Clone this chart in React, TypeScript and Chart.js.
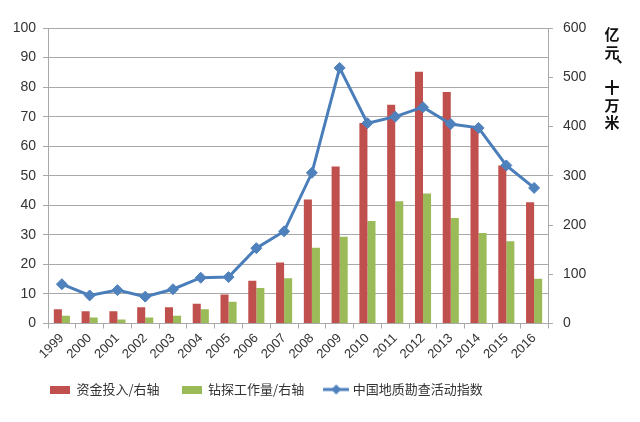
import React, { useEffect, useRef } from 'react';
import { Chart, registerables } from 'chart.js';

Chart.register(...registerables);

const years = ['1999', '2000', '2001', '2002', '2003', '2004', '2005', '2006', '2007', '2008', '2009', '2010', '2011', '2012', '2013', '2014', '2015', '2016'];
const fundInvestment = [29, 25, 25, 33, 33, 40, 59, 87, 124, 252, 319, 407, 444, 511, 470, 398, 321, 246];
const drillingWork = [16, 12, 8, 12, 16, 29, 44, 72, 92, 154, 176, 208, 248, 264, 214, 184, 167, 91];
const activityIndex = [13.3, 9.5, 11.3, 9.1, 11.6, 15.5, 15.7, 25.5, 31.2, 51.0, 86.5, 67.8, 70.0, 73.2, 67.5, 66.2, 53.5, 45.9];

const seriesNames = ['资金投入/右轴', '钻探工作量/右轴', '中国地质勘查活动指数'];
const rightAxisTitle = ['亿', '元', '、', '十', '万', '米'];
const leftAxis = { min: 0, max: 100, step: 10 };
const rightAxis = { min: 0, max: 600, step: 100 };

const RED = '#C0504D';
const GREEN = '#9BBB59';
const BLUE = '#4A7EBB';
const BLUE_FILL = '#4F81BD';
const GRID = '#A9A9A9';
const TEXT = '#333333';
const CJK = "'Noto Sans CJK SC', sans-serif";
const NUM = "'Liberation Sans', Arial, sans-serif";

function boxImage(color: string) {
  const c = document.createElement('canvas');
  c.width = 20;
  c.height = 8;
  const ctx = c.getContext('2d')!;
  ctx.fillStyle = color;
  ctx.fillRect(0, 0, 20, 8);
  return c;
}

function lineImage() {
  const c = document.createElement('canvas');
  c.width = 26;
  c.height = 12;
  const ctx = c.getContext('2d')!;
  ctx.strokeStyle = BLUE;
  ctx.lineWidth = 3;
  ctx.beginPath();
  ctx.moveTo(0, 6);
  ctx.lineTo(26, 6);
  ctx.stroke();
  ctx.fillStyle = BLUE_FILL;
  ctx.beginPath();
  ctx.moveTo(13, 1);
  ctx.lineTo(18, 6);
  ctx.lineTo(13, 11);
  ctx.lineTo(8, 6);
  ctx.closePath();
  ctx.fill();
  return c;
}

export default function App() {
  const ref = useRef<HTMLCanvasElement | null>(null);

  useEffect(() => {
    document.body.style.margin = '0';
    const canvas = ref.current;
    if (!canvas) return;
    const legendImgs = [boxImage(RED), boxImage(GREEN), lineImage()];

    const titlePlugin = {
      id: 'rightTitle',
      afterDraw(chart: any) {
        const ctx = chart.ctx;
        const area = chart.chartArea;
        ctx.save();
        ctx.font = `bold 15px ${CJK}`;
        ctx.fillStyle = '#111111';
        ctx.textAlign = 'center';
        ctx.textBaseline = 'middle';
        const x = area.right + 64;
        const dx = [0, 0, 12, 0, 0, 0];
        const ys = [6, 24.5, 28, 59, 77, 94.5];
        rightAxisTitle.forEach((ch, i) => ctx.fillText(ch, x + dx[i], area.top + ys[i]));
        ctx.restore();
      },
    };

    const legendPlace = {
      id: 'legendPlace',
      beforeDraw(chart: any) {
        const lg = chart.legend;
        if (lg) {
          lg.left = 28;
          lg.right = 640;
          lg.top = 361;
          lg.bottom = 420;
        }
      },
    };

    const chart = new Chart(canvas, {
      type: 'bar',
      data: {
        labels: years,
        datasets: [
          {
            type: 'bar',
            label: seriesNames[0],
            data: fundInvestment,
            backgroundColor: RED,
            yAxisID: 'y1',
            order: 1,
            categoryPercentage: 0.58,
            barPercentage: 1,
          },
          {
            type: 'bar',
            label: seriesNames[1],
            data: drillingWork,
            backgroundColor: GREEN,
            yAxisID: 'y1',
            order: 1,
            categoryPercentage: 0.58,
            barPercentage: 1,
          },
          {
            type: 'line',
            label: seriesNames[2],
            data: activityIndex,
            borderColor: BLUE,
            backgroundColor: BLUE_FILL,
            borderWidth: 3,
            pointStyle: 'rectRot',
            pointRadius: 5.5,
            pointBackgroundColor: BLUE_FILL,
            pointBorderColor: BLUE_FILL,
            pointBorderWidth: 1,
            tension: 0,
            yAxisID: 'y',
            order: 0,
          } as any,
        ],
      },
      options: {
        responsive: false,
        animation: false,
        layout: { padding: { top: 28, right: 0, left: 0, bottom: 13 } },
        plugins: {
          tooltip: { enabled: false },
          legend: {
            position: 'bottom',
            align: 'start',
            labels: {
              usePointStyle: true,
              pointStyleWidth: 20,
              padding: 22,
              color: TEXT,
              font: { family: CJK, size: 13 },
              sort: (a: any, b: any) => a.datasetIndex - b.datasetIndex,
              generateLabels: (c: any) => {
                const items = (Chart.defaults.plugins.legend.labels as any).generateLabels(c);
                items.forEach((it: any) => {
                  it.pointStyle = legendImgs[it.datasetIndex];
                });
                return items;
              },
            },
          },
        },
        scales: {
          x: {
            offset: true,
            grid: {
              display: true,
              drawOnChartArea: false,
              drawTicks: true,
              tickLength: 5,
              color: GRID,
              offset: true,
            },
            border: { display: true, color: GRID },
            ticks: {
              color: TEXT,
              font: { family: NUM, size: 13 },
              minRotation: 45,
              maxRotation: 45,
              autoSkip: false,
              padding: 2,
            },
          },
          y: {
            position: 'left',
            min: leftAxis.min,
            max: leftAxis.max,
            grid: { color: GRID, tickLength: 5, drawTicks: true },
            border: { display: true, color: GRID },
            ticks: {
              stepSize: leftAxis.step,
              color: TEXT,
              font: { family: NUM, size: 14 },
              padding: 7,
            },
            afterFit(scale: any) {
              scale.width = 48;
            },
          },
          y1: {
            position: 'right',
            min: rightAxis.min,
            max: rightAxis.max,
            grid: { drawOnChartArea: false, color: GRID, tickLength: 5, drawTicks: true },
            border: { display: true, color: GRID },
            ticks: {
              stepSize: rightAxis.step,
              color: TEXT,
              font: { family: NUM, size: 14 },
              padding: 10,
            },
            afterFit(scale: any) {
              scale.width = 92;
            },
          },
        },
      },
      plugins: [titlePlugin, legendPlace],
    });

    return () => chart.destroy();
  }, []);

  return (
    <div style={{ width: 640, height: 422, background: '#fff' }}>
      <canvas ref={ref} width={640} height={422} style={{ display: 'block' }} />
    </div>
  );
}
